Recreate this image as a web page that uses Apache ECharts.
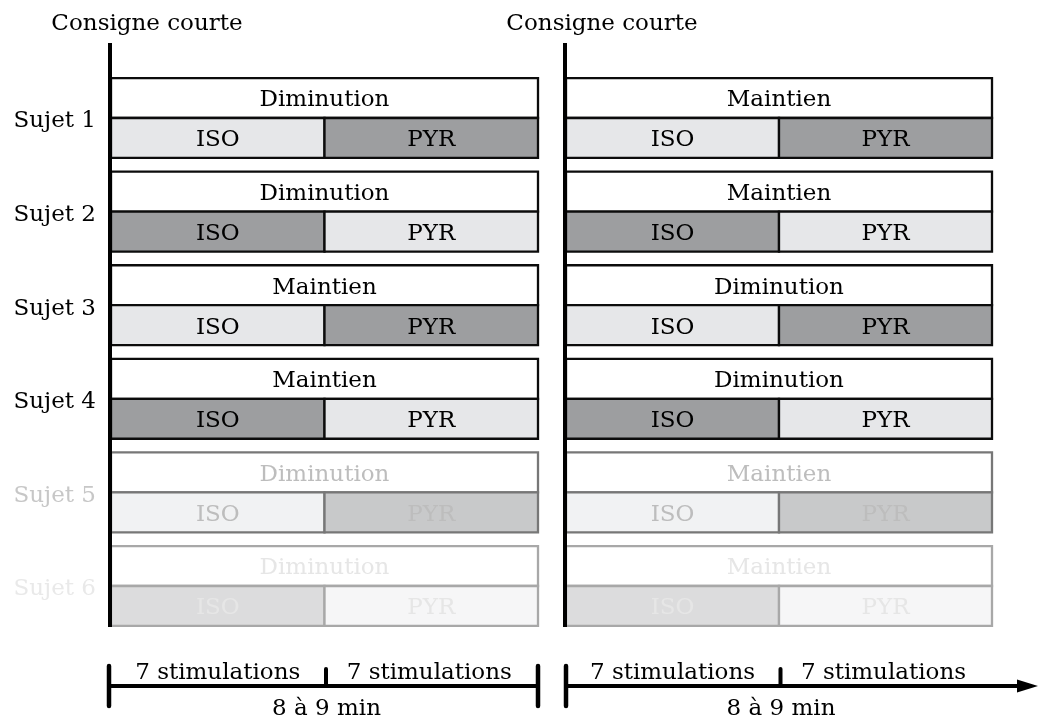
<!DOCTYPE html>
<html><head><meta charset="utf-8">
<script src="https://cdn.jsdelivr.net/npm/echarts@6/dist/echarts.min.js"></script>
<style>html,body{margin:0;padding:0;background:#fff}#c{width:1039px;height:722px}</style>
</head><body><div id="c"></div>
<script>
// ---- data ----
const subjects = ['Sujet 1', 'Sujet 2', 'Sujet 3', 'Sujet 4', 'Sujet 5', 'Sujet 6'];
const block1Condition = ['Diminution', 'Diminution', 'Maintien', 'Maintien', 'Diminution', 'Diminution'];
const block2Condition = ['Maintien', 'Maintien', 'Diminution', 'Diminution', 'Maintien', 'Maintien'];
const darkPhase = ['PYR', 'ISO', 'PYR', 'ISO', 'PYR', 'ISO'];
const boxOpacity = [1, 1, 1, 1, 0.56, 0.36];
const textOpacity = [1, 1, 1, 1, 0.26, 0.1];
const phases = ['ISO', 'PYR'];
const stimulationsPerPhase = [7, 7];
const blockTitle = 'Consigne courte';
const stimLabel = '7 stimulations';
const durationLabel = '8 à 9 min';

// ---- styles ----
const FONT = '23px "DejaVu Serif"';
const TDY = 2.5;
const DARK = [157, 158, 160];
const LIGHT = [230, 231, 233];
const INK = [12, 12, 12];
function blend(rgb, a) {
  const c = rgb.map(v => Math.round(v * a + 255 * (1 - a)));
  return 'rgb(' + c.join(',') + ')';
}
const total = stimulationsPerPhase[0] + stimulationsPerPhase[1];

function makeRender(conditions, withLabels) {
  return function (params, api) {
    const i = params.dataIndex;
    const p0 = api.coord([0, i]);
    const p1 = api.coord([stimulationsPerPhase[0], i]);
    const p2 = api.coord([total, i]);
    const band = api.size([0, 1])[1];
    const rh = band * 0.427;
    const yc = p0[1];
    const a = boxOpacity[i];
    const stroke = blend(INK, a);
    const tcol = blend([0, 0, 0], textOpacity[i]);
    const fillFor = ph => blend(ph === darkPhase[i] ? DARK : LIGHT, a);
    const children = [
      { type: 'rect', shape: { x: p0[0], y: yc - rh, width: p2[0] - p0[0], height: rh },
        style: { fill: '#fff', stroke: stroke, lineWidth: 2.3 } },
      { type: 'rect', shape: { x: p0[0], y: yc, width: p1[0] - p0[0], height: rh },
        style: { fill: fillFor(phases[0]), stroke: stroke, lineWidth: 2.3 } },
      { type: 'rect', shape: { x: p1[0], y: yc, width: p2[0] - p1[0], height: rh },
        style: { fill: fillFor(phases[1]), stroke: stroke, lineWidth: 2.3 } },
      { type: 'text', style: { text: conditions[i], x: (p0[0] + p2[0]) / 2, y: yc - rh / 2 + TDY,
        align: 'center', verticalAlign: 'middle', font: FONT, fill: tcol } },
      { type: 'text', style: { text: phases[0], x: (p0[0] + p1[0]) / 2, y: yc + rh / 2 + TDY,
        align: 'center', verticalAlign: 'middle', font: FONT, fill: tcol } },
      { type: 'text', style: { text: phases[1], x: (p1[0] + p2[0]) / 2, y: yc + rh / 2 + TDY,
        align: 'center', verticalAlign: 'middle', font: FONT, fill: tcol } }
    ];
    if (withLabels) {
      const la = textOpacity[i] === 1 ? 1 : textOpacity[i] * 0.85;
      children.push({ type: 'text', style: { text: subjects[i], x: p0[0] - 15, y: yc + 3.5,
        align: 'right', verticalAlign: 'middle', font: FONT, fill: blend([0, 0, 0], la) } });
    }
    return { type: 'group', children: children };
  };
}

const chart = echarts.init(document.getElementById('c'), null, { renderer: 'canvas' });
const gridTop = 71.2, gridH = 561.6;
const xAxisBase = { type: 'value', min: 0, max: total, show: false };
const yAxisBase = { type: 'category', data: subjects, inverse: true, show: false };
chart.setOption({
  animation: false,
  backgroundColor: '#fff',
  grid: [
    { left: 111, width: 427, top: gridTop, height: gridH },
    { left: 566, width: 426, top: gridTop, height: gridH }
  ],
  xAxis: [Object.assign({ gridIndex: 0 }, xAxisBase), Object.assign({ gridIndex: 1 }, xAxisBase)],
  yAxis: [Object.assign({ gridIndex: 0 }, yAxisBase), Object.assign({ gridIndex: 1 }, yAxisBase)],
  series: [
    { type: 'custom', xAxisIndex: 0, yAxisIndex: 0, renderItem: makeRender(block1Condition, true),
      data: subjects.map((s, i) => [0, i]), clip: false, z: 2 },
    { type: 'custom', xAxisIndex: 1, yAxisIndex: 1, renderItem: makeRender(block2Condition, false),
      data: subjects.map((s, i) => [0, i]), clip: false, z: 2 }
  ]
});

// ---- decorations placed through the axes' scales ----
function deco() {
  const yFirst = chart.convertToPixel({ yAxisIndex: 0 }, subjects[0]);
  const yLast = chart.convertToPixel({ yAxisIndex: 0 }, subjects[subjects.length - 1]);
  const els = [];
  const Z = 100;
  [0, 1].forEach(g => {
    const x0 = chart.convertToPixel({ xAxisIndex: g }, 0);
    const xm = chart.convertToPixel({ xAxisIndex: g }, stimulationsPerPhase[0]);
    const x2 = chart.convertToPixel({ xAxisIndex: g }, total);
    const vx = x0 - 1;
    els.push({ type: 'line', z: Z, shape: { x1: vx, y1: yFirst - 75, x2: vx, y2: yLast + 41 },
      style: { stroke: '#000', lineWidth: 4 } });
    els.push({ type: 'text', z: Z, style: { text: blockTitle, x: vx + 37, y: yFirst - 96 + TDY,
      align: 'center', verticalAlign: 'middle', font: FONT, fill: '#000' } });
    const ty = yLast + 100;
    const lx = g === 0 ? x0 - 2 : x0;
    const rx = g === 0 ? x2 : 1022;
    els.push({ type: 'line', z: Z, shape: { x1: lx, y1: ty, x2: rx, y2: ty }, style: { stroke: '#000', lineWidth: 4 } });
    els.push({ type: 'line', z: Z, shape: { x1: lx, y1: ty - 20, x2: lx, y2: ty + 20 },
      style: { stroke: '#000', lineWidth: 4.5, lineCap: 'round' } });
    if (g === 0) {
      els.push({ type: 'line', z: Z, shape: { x1: x2, y1: ty - 20, x2: x2, y2: ty + 20 },
        style: { stroke: '#000', lineWidth: 4.5, lineCap: 'round' } });
    } else {
      els.push({ type: 'polygon', z: Z, shape: { points: [[1017, ty - 6.5], [1038, ty], [1017, ty + 6.5]] },
        style: { fill: '#000' } });
    }
    els.push({ type: 'line', z: Z, shape: { x1: xm + 1.5, y1: ty - 17, x2: xm + 1.5, y2: ty },
      style: { stroke: '#000', lineWidth: 4, lineCap: 'round' } });
    els.push({ type: 'text', z: Z, style: { text: stimLabel, x: (x0 + xm) / 2, y: yLast + 85 + TDY,
      align: 'center', verticalAlign: 'middle', font: FONT, fill: '#000' } });
    els.push({ type: 'text', z: Z, style: { text: stimLabel, x: (xm + x2) / 2 - 2, y: yLast + 85 + TDY,
      align: 'center', verticalAlign: 'middle', font: FONT, fill: '#000' } });
    els.push({ type: 'text', z: Z, style: { text: durationLabel, x: xm + 2, y: yLast + 121 + TDY,
      align: 'center', verticalAlign: 'middle', font: FONT, fill: '#000' } });
  });
  chart.setOption({ graphic: els });
}
deco();
</script>
</body></html>
